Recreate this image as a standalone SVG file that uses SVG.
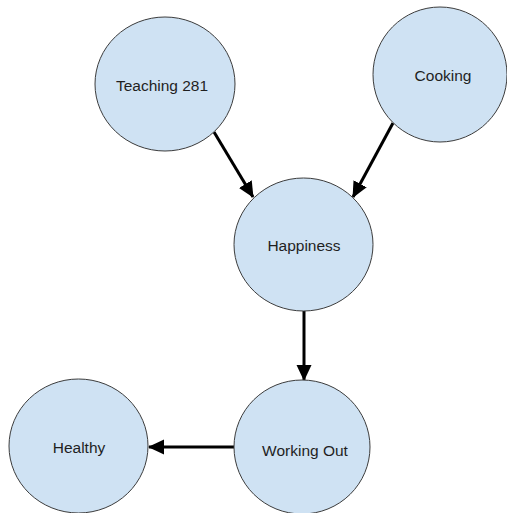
<svg xmlns="http://www.w3.org/2000/svg" width="507" height="513" viewBox="0 0 507 513">
<style>
.n{fill:#cfe2f3;stroke:#3c3c3c;stroke-width:1}
.t{font-family:"Liberation Sans",Arial,sans-serif;font-size:15.5px;fill:#1f1f1f;text-anchor:middle}
.e{stroke:#000;stroke-width:3;fill:none;marker-end:url(#ah)}
</style>
<defs>
<marker id="ah" markerUnits="userSpaceOnUse" markerWidth="16" markerHeight="16" viewBox="0 0 16 16" refX="15" refY="8" orient="auto">
<path d="M0,0.5 L16,8 L0,15.5 Z" fill="#000"/>
</marker>
</defs>
<rect width="507" height="513" fill="#fff"/>
<g id="connectors">
<line class="e" x1="214" y1="132" x2="253" y2="197"/>
<line class="e" x1="393" y1="123" x2="353" y2="197"/>
<line class="e" x1="304" y1="311" x2="304" y2="380"/>
<line class="e" x1="234" y1="447" x2="149" y2="447"/>
</g>
<g id="teaching">
<ellipse class="n" cx="165" cy="84" rx="70" ry="67"/>
<text class="t" x="162" y="90.5">Teaching 281</text>
</g>
<g id="cooking">
<ellipse class="n" cx="440" cy="74.5" rx="67" ry="67.5"/>
<text class="t" x="443" y="80.5">Cooking</text>
</g>
<g id="happiness">
<ellipse class="n" cx="303.5" cy="244.5" rx="69.5" ry="66.5"/>
<text class="t" x="304" y="250.5">Happiness</text>
</g>
<g id="workingout">
<ellipse class="n" cx="302" cy="447" rx="68" ry="67"/>
<text class="t" x="305" y="455.5">Working Out</text>
</g>
<g id="healthy">
<ellipse class="n" cx="78.5" cy="446" rx="69.5" ry="67"/>
<text class="t" x="79" y="452.5">Healthy</text>
</g>
</svg>
